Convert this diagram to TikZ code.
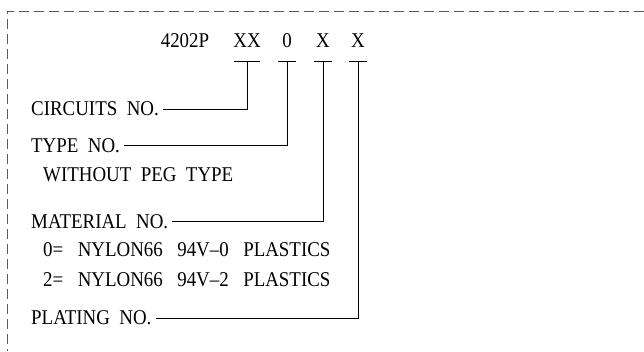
\documentclass[tikz,border=0pt]{standalone}
\usepackage{fontspec}
\setmainfont[FakeStretch=0.9]{Liberation Serif}
\newcommand\wgap{\hspace{14.5pt}}
\begin{document}
\begin{tikzpicture}[x=1pt,y=-1pt,
    every node/.style={font=\fontsize{21}{24}\selectfont,inner sep=0pt},
    lbl/.style={anchor=west,inner xsep=0pt},
    lead/.style={draw,line width=0.8pt}]
      \useasboundingbox (0,0) rectangle (644,351);
      \path[draw,gray!70!black,line width=0.8pt,dash pattern=on 10pt off 5pt] (644,11) -- (7,11) -- (7,351);
      % part number
      \node (pre) at (185,41) {4202P};
      \foreach \n / \x / \w / \t in {cc/247/13/XX, tt/287/9/0, mm/323/9/X, pp/358/9/X} {
        \node (\n) at (\x,41) {\t};
        \coordinate (\n b) at (\x,61);
        \path[lead] ([xshift=-\w pt]\n b) -- ([xshift=\w pt]\n b);
      }
      % labels
      \node[lbl] (circ) at (31,109) {CIRCUITS\ \ NO.};
      \node[lbl] (type) at (31,145.5) {TYPE\ \ NO.};
      \node[lbl] (peg) at (43,175) {WITHOUT\ \ PEG\ \ TYPE};
      \node[lbl] (mat) at (31,221.5) {MATERIAL\ \ NO.};
      \node[lbl] (mat0) at (43,250) {0=\wgap NYLON66\wgap 94V--0\wgap PLASTICS};
      \node[lbl] (mat2) at (43,280) {2=\wgap NYLON66\wgap 94V--2\wgap PLASTICS};
      \node[lbl] (plat) at (31,318) {PLATING\ \ NO.};
      \foreach \a / \b in {circ/cc, type/tt, mat/mm, plat/pp} {
        \path[lead] ([xshift=4pt]\a.east) -| (\b b);
      }
\end{tikzpicture}
\end{document}
